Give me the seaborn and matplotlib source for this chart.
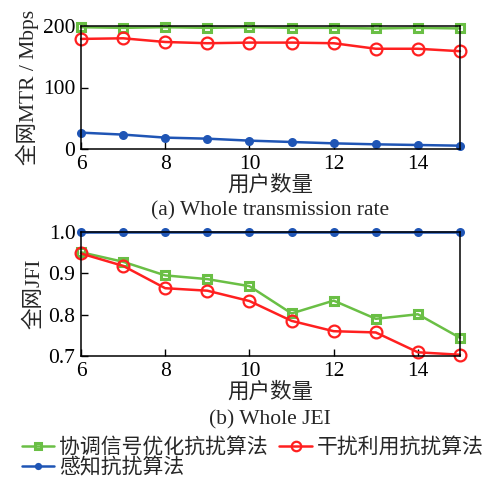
import matplotlib
matplotlib.use("Agg")
import matplotlib.pyplot as plt
import seaborn as sns
import pandas as pd

# number of users
users = [6, 7, 8, 9, 10, 11, 12, 13, 14, 15]

# whole-network transmission rate (Mbps)
mtr_coord = [198, 197, 198, 197, 198, 197, 197, 196, 197, 196]
mtr_interf = [179, 180, 174, 172, 173, 173, 172, 163, 163, 159]
mtr_sense = [26.6, 23.4, 18.5, 16.8, 13.6, 11.4, 9.2, 7.6, 6.5, 5.4]

# whole-network fairness index
jfi_coord = [0.951, 0.928, 0.895, 0.886, 0.869, 0.803, 0.834, 0.790, 0.801, 0.744]
jfi_interf = [0.948, 0.918, 0.864, 0.858, 0.833, 0.785, 0.760, 0.757, 0.709, 0.703]
jfi_sense = [1.0, 1.0, 1.0, 1.0, 1.0, 1.0, 1.0, 1.0, 1.0, 1.0]

names = ["协调信号优化抗扰算法", "干扰利用抗扰算法", "感知抗扰算法"]
y_ticks_a = [0, 100, 200]
y_ticks_b = [0.7, 0.8, 0.9, 1.0]
x_ticks = [6, 8, 10, 12, 14]

sns.set_theme(style="white")
plt.rcParams["font.family"] = ["Liberation Serif", "Noto Sans CJK SC"]
plt.rcParams["axes.unicode_minus"] = False

FS = 15.5
styles = [
    dict(color="#6abf45", marker="s", markersize=5.5, markerfacecolor="none",
         markeredgecolor="#6abf45", markeredgewidth=2.2),
    dict(color="#ff2020", marker="o", markersize=8.5, markerfacecolor="none",
         markeredgecolor="#ff2020", markeredgewidth=1.6),
    dict(color="#1f55b5", marker="o", markersize=6.5, markerfacecolor="#1f55b5",
         markeredgecolor="#1f55b5", markeredgewidth=0),
]

fig = plt.figure(figsize=(4.93, 4.80), dpi=100)
ax1 = fig.add_axes([81 / 493, 1 - 149 / 480, 379 / 493, 123 / 480])
ax2 = fig.add_axes([81 / 493, 1 - 356 / 480, 379 / 493, 124 / 480])


def draw(ax, series, ylim, yticks, ylabel):
    for name, vals, st in zip(names, series, styles):
        df = pd.DataFrame({"users": users, "value": vals})
        sns.lineplot(data=df, x="users", y="value", ax=ax, label=name,
                     linewidth=1.8, clip_on=False, legend=False, **st)
    ax.set_xlim(6, 15)
    ax.set_ylim(*ylim)
    ax.set_xticks(x_ticks)
    ax.set_yticks(yticks)
    ax.tick_params(direction="in", length=5, width=1, labelsize=FS, pad=4,
                   colors="black", bottom=True, left=True)
    for sp in ax.spines.values():
        sp.set_color("black")
        sp.set_linewidth(1.1)
        sp.set_visible(True)
    ax.set_xlabel("用户数量", fontsize=FS, labelpad=1)
    ax.set_ylabel(ylabel, fontsize=FS, labelpad=3)
    ax.grid(False)


draw(ax1, [mtr_coord, mtr_interf, mtr_sense], (0, 200), y_ticks_a, "全网MTR / Mbps")
draw(ax2, [jfi_coord, jfi_interf, jfi_sense], (0.7, 1.0), y_ticks_b, "全网JFI")
ax2.set_yticklabels(["0.7", "0.8", "0.9", "1.0"])

fig.text(270 / 493, 1 - 211 / 480, "(a) Whole transmission rate", ha="center",
         va="center", fontsize=FS)
fig.text(270 / 493, 1 - 420 / 480, "(b) Whole JEI", ha="center",
         va="center", fontsize=FS)

handles, labels = ax2.get_legend_handles_labels()
order = [0, 2, 1]
leg = fig.legend([handles[i] for i in order], [labels[i] for i in order],
                 loc="upper left", bbox_to_anchor=(0.044, 1 - 438 / 480), ncol=2,
                 frameon=False, fontsize=15, handlelength=1.55, handletextpad=0.25,
                 columnspacing=0.55, labelspacing=0.0, borderaxespad=0, borderpad=0,
                 markerscale=0.8)

fig.savefig("out.png", dpi=100)
